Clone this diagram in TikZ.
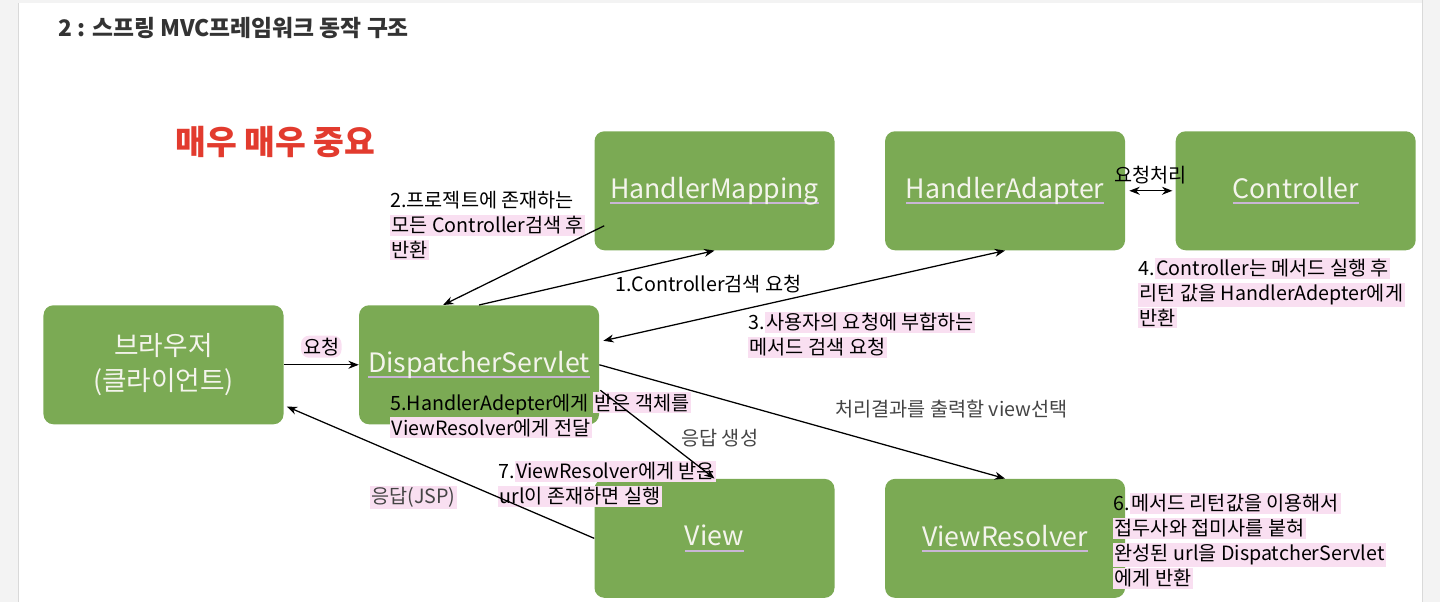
\documentclass[tikz,border=0pt]{standalone}
\usepackage{fontspec}
\setmainfont{Noto Sans CJK KR}
\usetikzlibrary{positioning, arrows.meta, calc}

\definecolor{boxgreen}{HTML}{7BAA54}
\definecolor{boxtext}{HTML}{F4F4EC}
\definecolor{ulline}{HTML}{C9B6D6}
\definecolor{hlpink}{HTML}{F9DFF1}
\definecolor{titlegray}{HTML}{333333}
\definecolor{notegray}{HTML}{444444}
\definecolor{alertred}{HTML}{E23B2E}
\definecolor{pagegray}{HTML}{F3F3F3}

\newcommand\boxul[1]{\setbox0\hbox{#1}\rlap{\color{ulline}\rule[-1.4mm]{\wd0}{0.5mm}}\box0}
\newcommand\hili[1]{{\setlength\fboxsep{1pt}\colorbox{hlpink}{#1}}}

\begin{document}
\begin{tikzpicture}[
    x=0.25mm, y=-0.25mm,
    box/.style={fill=boxgreen, rounded corners=2.5mm, minimum width=60mm, minimum height=29.75mm, align=center, text=boxtext, font=\fontsize{19}{25}\selectfont},
    lbl/.style={anchor=west, align=left, inner sep=0pt, font=\fontsize{14}{17.8}\selectfont},
    arr/.style={-{Stealth[length=2.6mm, width=2mm]}, line width=0.9pt},
    arr2/.style={{Stealth[length=2.6mm, width=2mm]}-{Stealth[length=2.6mm, width=2mm]}, line width=0.9pt}
]

% page edges
\fill[pagegray] (0,0) rectangle (18,602);
\draw[black!15] (18,0) -- (18,602);
\fill[pagegray] (1422,0) rectangle (1440,602);
\draw[black!15] (1422,0) -- (1422,602);
\fill[pagegray] (18,0) rectangle (1422,3);
\useasboundingbox (0,0) rectangle (1440,602);

% Title
\node[anchor=west, inner sep=0pt, font=\fontsize{16.2}{19}\selectfont\bfseries, text=titlegray] (title) at (58,28) {2 : 스프링 MVC프레임워크 동작 구조};
\node[anchor=west, inner sep=0pt, font=\fontsize{23.8}{28}\selectfont\bfseries, text=alertred] (alert) at (175,142) {매우 매우 중요};

% Boxes
\node[box] (browser) at (163.5,364.5) {브라우저\\(클라이언트)};
\node[box, right=18.75mm of browser] (dispatcher) {\boxul{DispatcherServlet}};
\node[box] (hmapping) at (714.5,190.5) {\boxul{HandlerMapping}};
\node[box, right=12.5mm of hmapping] (hadapter) {\boxul{HandlerAdapter}};
\node[box, right=12.5mm of hadapter] (controller) {\boxul{Controller}};
\node[box, below=57mm of hmapping] (view) {\boxul{View}};
\node[box, right=12.5mm of view] (vresolver) {\boxul{ViewResolver}};

% Step notes
\node[lbl] (note2) at (390,225.5) {2.프로젝트에 존재하는\\\hili{모든 Controller검색 후}\\\hili{반환}};
\node[lbl] (note1) at (615,284) {1.Controller검색 요청};
\node[lbl] (note3) at (748,334.5) {3.\hili{사용자의 요청에 부합하는}\\\hili{메서드 검색 요청}};
\node[lbl] (note4) at (1138,293) {4.\hili{Controller는 메서드 실행 후}\\\hili{리턴 값을 HandlerAdepter에게}\\\hili{반환}};
\node[lbl] (note5) at (390,415) {5.HandlerAdepter에게 \hili{받은 객체를}\\\hili{ViewResolver에게 전달}};
\node[lbl] (note6) at (1113,540.5) {6.\hili{메서드 리턴값을 이용해서}\\\hili{접두사와 접미사를 붙혀}\\\hili{완성된 url을 DispatcherServlet}\\\hili{에게 반환}};
\node[lbl] (note7) at (498,483.5) {7.\hili{ViewResolver에게 받은}\\\hili{url이 존재하면 실행}};
\node[lbl, text=notegray] (select) at (835,409) {처리결과를 출력할 view선택};
\node[lbl, text=notegray] (gen) at (681,438) {응답 생성};
\node[lbl, text=notegray] (jsp) at (370,497) {\hili{응답(JSP)}};

% Arrows
\draw[arr] (browser.east) -- node[above=1.6mm, fill=hlpink, rounded corners=2mm, inner sep=1.5pt, font=\fontsize{14}{17.8}\selectfont] (req) {요청} (dispatcher.west);
\draw[arr] (dispatcher.north) -- (hmapping.south);
\draw[arr] ([shift={(10,35)}]hmapping.west) -- ([xshift=-9mm]dispatcher.north);
\draw[arr2] ([shift={(4,-24)}]dispatcher.east) -- (hadapter.south);
\draw[arr2, shorten <=1mm, shorten >=0.75mm] (hadapter.east) -- node[above=1.6mm, inner sep=0pt, font=\fontsize{14}{17.8}\selectfont] (proc) {요청처리} (controller.west);
\draw[arr] (dispatcher.east) -- (vresolver.north);
\draw[arr] ([shift={(1,25.5)}]dispatcher.east) -- (view.north);
\draw[arr] (view.west) -- ([shift={(3,-18)}]browser.south east);

\end{tikzpicture}
\end{document}
